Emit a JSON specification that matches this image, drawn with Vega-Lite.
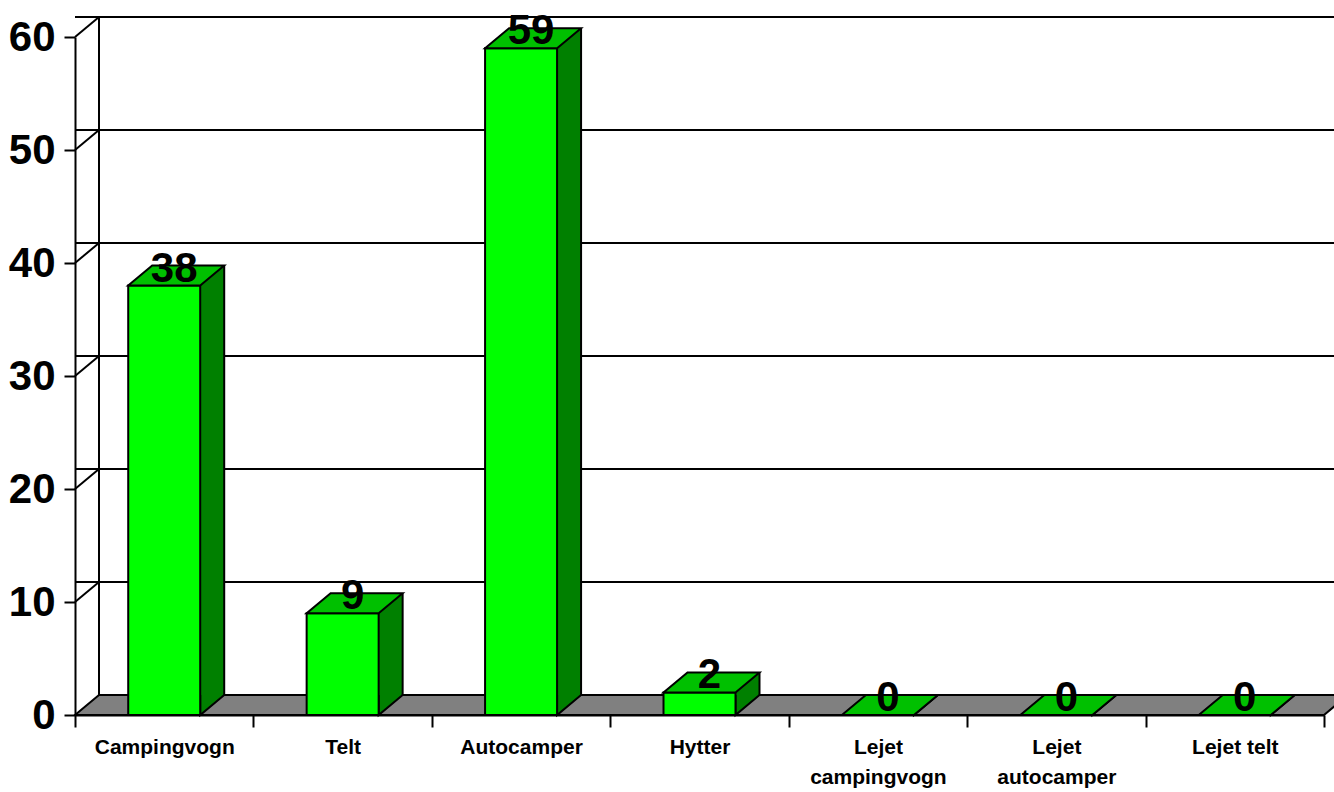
{
  "$schema": "https://vega.github.io/schema/vega-lite/v6.json",
  "width": 1249,
  "height": 678,
  "autosize": {"type": "none"},
  "padding": {"left": 75, "top": 37, "right": 10, "bottom": 77},
  "background": "white",
  "config": {
    "view": {"stroke": null},
    "font": "Liberation Sans",
    "axis": {
      "grid": false,
      "domainColor": "black",
      "domainWidth": 2,
      "tickColor": "black",
      "tickWidth": 2,
      "labelColor": "black",
      "labelFont": "Liberation Sans",
      "labelFontWeight": "bold",
      "zindex": 1
    },
    "axisY": {
      "labelFontSize": 42,
      "tickSize": 11,
      "labelPadding": 9,
      "tickCount": 6
    },
    "axisX": {
      "labelFontSize": 21,
      "tickSize": 12,
      "labelPadding": 9,
      "labelAngle": 0,
      "tickBand": "extent",
      "labelLineHeight": 30,
      "labelExpr": "datum.label == 'Lejet telt' ? datum.label : split(datum.label, ' ')"
    }
  },
  "datasets": {
    "bars": [
      {"category": "Campingvogn", "value": 38},
      {"category": "Telt", "value": 9},
      {"category": "Autocamper", "value": 59},
      {"category": "Hytter", "value": 2},
      {"category": "Lejet campingvogn", "value": 0},
      {"category": "Lejet autocamper", "value": 0},
      {"category": "Lejet telt", "value": 0}
    ],
    "ticks": [
      {"tick": 10}, {"tick": 20}, {"tick": 30}, {"tick": 40}, {"tick": 50}, {"tick": 60}
    ]
  },
  "layer": [
    {
      "data": {"values": [{"part": "floor"}]},
      "mark": {
        "type": "point",
        "shape": "M-0.96299,0.01542L0.96299,0.01542L1,-0.01542L-0.92598,-0.01542Z",
        "size": 1682209,
        "filled": true,
        "fill": "#808080",
        "stroke": "black",
        "strokeWidth": 2,
        "opacity": 1,
        "yOffset": -10
      },
      "encoding": {
        "x": {"datum": "Hytter", "type": "nominal", "title": null},
        "y": {"datum": 0, "type": "quantitative", "title": null}
      }
    },
    {
      "data": {"name": "ticks"},
      "mark": {"type": "rule", "color": "black", "strokeWidth": 2, "xOffset": 24, "x2Offset": 24, "yOffset": -20},
      "encoding": {
        "y": {"field": "tick", "type": "quantitative", "title": null}
      }
    },
    {
      "data": {"values": [{"part": "wall"}]},
      "mark": {"type": "rule", "color": "black", "strokeWidth": 2, "xOffset": 24, "yOffset": -20, "y2Offset": -20},
      "encoding": {
        "x": {"datum": "Campingvogn", "type": "nominal", "bandPosition": 0, "title": null},
        "y": {"datum": 60, "type": "quantitative", "title": null},
        "y2": {"datum": 0}
      }
    },
    {
      "data": {"name": "ticks"},
      "mark": {
        "type": "point",
        "shape": "M-1,0.8333L1,-0.8333",
        "size": 576,
        "filled": false,
        "stroke": "black",
        "strokeWidth": 2,
        "opacity": 1,
        "xOffset": 12,
        "yOffset": -10
      },
      "encoding": {
        "x": {"datum": "Campingvogn", "type": "nominal", "bandPosition": 0, "title": null},
        "y": {"field": "tick", "type": "quantitative", "title": null}
      }
    },
    {
      "data": {"name": "bars"},
      "mark": {"type": "bar", "fill": "#008000", "width": 24, "xOffset": 48, "yOffset": -20, "y2Offset": -20, "strokeWidth": 0},
      "encoding": {
        "x": {"field": "category", "type": "nominal", "title": null},
        "y": {"field": "value", "type": "quantitative", "title": null},
        "y2": {"datum": 0}
      }
    },
    {
      "data": {"name": "bars"},
      "mark": {
        "type": "point",
        "shape": "M1,-0.8333L-1,0.8333L-1,-0.8333",
        "size": 576,
        "filled": true,
        "fill": "#008000",
        "stroke": "black",
        "strokeWidth": 2,
        "opacity": 1,
        "xOffset": 48,
        "yOffset": -10
      },
      "encoding": {
        "x": {"field": "category", "type": "nominal", "title": null},
        "y": {"datum": 0, "type": "quantitative", "title": null}
      }
    },
    {
      "data": {"name": "bars"},
      "mark": {"type": "rule", "color": "black", "strokeWidth": 2, "xOffset": 60, "yOffset": -20, "y2Offset": -20},
      "encoding": {
        "x": {"field": "category", "type": "nominal", "title": null},
        "y": {"field": "value", "type": "quantitative", "title": null},
        "y2": {"datum": 0}
      }
    },
    {
      "data": {"name": "bars"},
      "mark": {"type": "bar", "fill": "#00FF00", "stroke": "black", "strokeWidth": 2, "width": 72},
      "encoding": {
        "x": {
          "field": "category",
          "type": "nominal",
          "sort": null,
          "title": null,
          "scale": {
            "domain": ["Campingvogn", "Telt", "Autocamper", "Hytter", "Lejet campingvogn", "Lejet autocamper", "Lejet telt"],
            "paddingInner": 0,
            "paddingOuter": 0
          }
        },
        "y": {
          "field": "value",
          "type": "quantitative",
          "title": null,
          "scale": {"domain": [0, 60], "nice": false, "zero": true}
        },
        "y2": {"datum": 0}
      }
    },
    {
      "data": {"name": "bars"},
      "mark": {
        "type": "point",
        "shape": "M-1,0.2083L0.5,0.2083L1,-0.2083L-0.5,-0.2083Z",
        "size": 9216,
        "filled": true,
        "fill": "#00C000",
        "stroke": "black",
        "strokeWidth": 2,
        "opacity": 1,
        "xOffset": 12,
        "yOffset": -10
      },
      "encoding": {
        "x": {"field": "category", "type": "nominal", "title": null},
        "y": {"field": "value", "type": "quantitative", "title": null}
      }
    },
    {
      "data": {"name": "bars"},
      "mark": {
        "type": "text",
        "font": "Liberation Sans",
        "fontWeight": "bold",
        "fontSize": 42,
        "align": "center",
        "baseline": "alphabetic",
        "dx": 10,
        "dy": -4,
        "color": "black"
      },
      "encoding": {
        "x": {"field": "category", "type": "nominal", "title": null},
        "y": {"field": "value", "type": "quantitative", "title": null},
        "text": {"field": "value", "type": "quantitative"}
      }
    }
  ]
}
